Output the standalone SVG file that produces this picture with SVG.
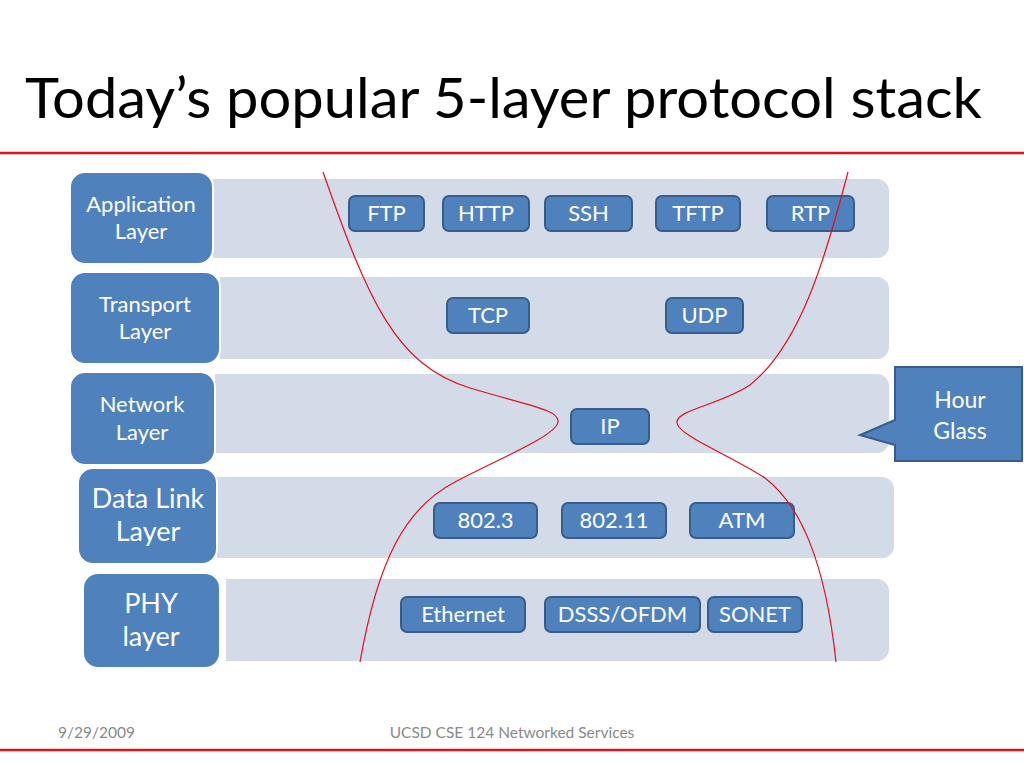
<svg xmlns="http://www.w3.org/2000/svg" width="1024" height="768" viewBox="0 0 1024 768">
<style>
.band{fill:#D3DAE8}
.layer{fill:#4F81BD;stroke:#FFFFFF;stroke-width:2}
.proto{fill:#4F81BD;stroke:#385D8A;stroke-width:2}
.lt{font-family:Lato,"Open Sans",sans-serif;fill:#FFFFFF;text-anchor:middle}
.s20{font-size:22px}
.s25{font-size:27px}
.red{fill:none;stroke:#E3101E;stroke-width:1.2}
.rule{stroke:#E0141E;stroke-width:2.5}
.foot{font-family:Lato,"Open Sans",sans-serif;font-size:15.5px;fill:#898989}
</style>
<rect width="1024" height="768" fill="#FFFFFF"/>
<text x="25" y="118" font-family="Lato,'Open Sans',sans-serif" font-size="56" fill="#000000" textLength="957" lengthAdjust="spacingAndGlyphs">Today’s popular 5-layer protocol stack</text>
<line class="rule" x1="0" y1="153" x2="1024" y2="153"/>
<line class="rule" x1="0" y1="750" x2="1024" y2="750"/>

<g id="bands">
<path class="band" d="M213,179 H877 a12,12 0 0 1 12,12 V246 a12,12 0 0 1 -12,12 H213 Z"/>
<path class="band" d="M220,277 H877 a12,12 0 0 1 12,12 V347 a12,12 0 0 1 -12,12 H220 Z"/>
<path class="band" d="M215,374 H877 a12,12 0 0 1 12,12 V441 a12,12 0 0 1 -12,12 H215 Z"/>
<path class="band" d="M217,477 H882 a12,12 0 0 1 12,12 V546 a12,12 0 0 1 -12,12 H217 Z"/>
<path class="band" d="M226,579 H877 a12,12 0 0 1 12,12 V649 a12,12 0 0 1 -12,12 H226 Z"/>
</g>

<g id="layer-app"><rect class="layer" x="70" y="172" width="143" height="92" rx="15"/><text class="lt s20" x="141" y="212">Application</text><text class="lt s20" x="141" y="239">Layer</text></g>
<g id="layer-transport"><rect class="layer" x="70" y="272" width="150" height="92" rx="15"/><text class="lt s20" x="145" y="312">Transport</text><text class="lt s20" x="145" y="339">Layer</text></g>
<g id="layer-network"><rect class="layer" x="70" y="372" width="145" height="93" rx="15"/><text class="lt s20" x="142" y="412">Network</text><text class="lt s20" x="142" y="440">Layer</text></g>
<g id="layer-datalink"><rect class="layer" x="78" y="468" width="139" height="96" rx="15"/><text class="lt s25" x="148" y="508">Data Link</text><text class="lt s25" x="148" y="541">Layer</text></g>
<g id="layer-phy"><rect class="layer" x="83" y="573" width="137" height="95" rx="15"/><text class="lt s25" x="151" y="613">PHY</text><text class="lt s25" x="151" y="646">layer</text></g>

<g id="ftp"><rect class="proto" x="349" y="196" width="75" height="35" rx="6"/><text class="lt s20" x="386.5" y="221">FTP</text></g>
<g id="http"><rect class="proto" x="443" y="196" width="86" height="35" rx="6"/><text class="lt s20" x="486" y="221">HTTP</text></g>
<g id="ssh"><rect class="proto" x="545" y="196" width="87" height="35" rx="6"/><text class="lt s20" x="588.5" y="221">SSH</text></g>
<g id="tftp"><rect class="proto" x="656" y="196" width="84" height="35" rx="6"/><text class="lt s20" x="698" y="221">TFTP</text></g>
<g id="rtp"><rect class="proto" x="767" y="196" width="87" height="35" rx="6"/><text class="lt s20" x="810.5" y="221">RTP</text></g>
<g id="tcp"><rect class="proto" x="447" y="298" width="82" height="35" rx="6"/><text class="lt s20" x="488" y="323">TCP</text></g>
<g id="udp"><rect class="proto" x="666" y="298" width="77" height="35" rx="6"/><text class="lt s20" x="704.5" y="323">UDP</text></g>
<g id="ip"><rect class="proto" x="571" y="409" width="78" height="35" rx="6"/><text class="lt s20" x="610" y="434">IP</text></g>
<g id="p8023"><rect class="proto" x="434" y="503" width="103" height="35" rx="6"/><text class="lt s20" x="485.5" y="528">802.3</text></g>
<g id="p80211"><rect class="proto" x="562" y="503" width="104" height="35" rx="6"/><text class="lt s20" x="614" y="528">802.11</text></g>
<g id="atm"><rect class="proto" x="690" y="503" width="104" height="35" rx="6"/><text class="lt s20" x="742" y="528">ATM</text></g>
<g id="ethernet"><rect class="proto" x="401" y="597" width="124" height="35" rx="6"/><text class="lt s20" x="463" y="622">Ethernet</text></g>
<g id="dsss"><rect class="proto" x="545" y="597" width="155" height="35" rx="6"/><text class="lt s20" x="622.5" y="622">DSSS/OFDM</text></g>
<g id="sonet"><rect class="proto" x="708" y="597" width="94" height="35" rx="6"/><text class="lt s20" x="755" y="622">SONET</text></g>

<g id="connectors">
<path class="red" d="M323,172 C368,300 395,365 470,388 C530,406 560,410 558,422 C556,436 500,458 455,482 C405,508 378,560 360,662"/>
<path class="red" d="M848,172 C825,260 800,345 750,385 C720,405 675,410 677,423 C679,436 730,455 765,478 C800,505 825,560 836,662"/>
</g>

<g id="hourglass">
<path d="M895,367 H1022 V461 H895 V445 L860,435 L895,420 Z" fill="#4F81BD" stroke="#385D8A" stroke-width="2"/>
<text class="lt" font-size="23" x="960" y="408">Hour</text>
<text class="lt" font-size="23" x="960" y="439">Glass</text>
</g>

<text class="foot" x="58" y="738">9/29/2009</text>
<text class="foot" x="512" y="738" text-anchor="middle">UCSD CSE 124 Networked Services</text>
</svg>
